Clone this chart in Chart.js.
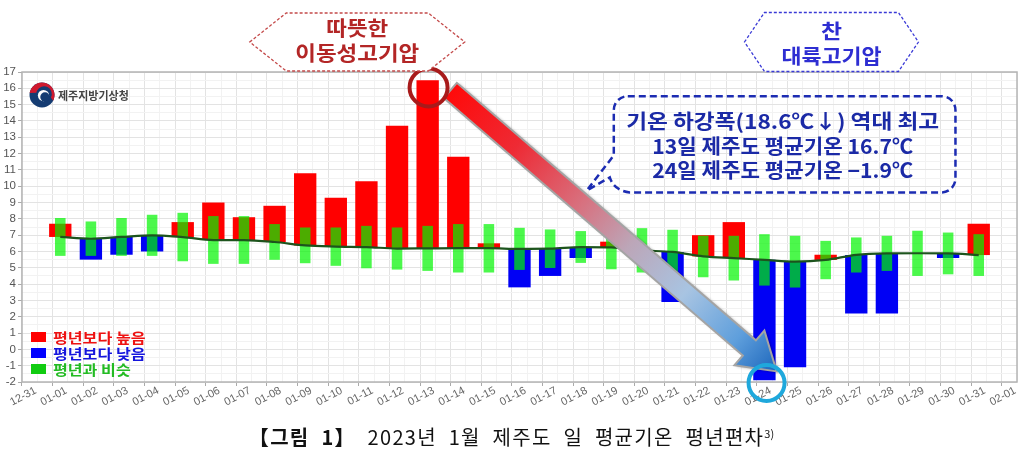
<!DOCTYPE html>
<html><head><meta charset="utf-8">
<script src="https://cdn.jsdelivr.net/npm/chart.js@4.4.0/dist/chart.umd.min.js"></script>
<style>
html,body{margin:0;padding:0;background:#fff;}
#wrap{position:relative;width:1023px;height:456px;overflow:hidden;}
canvas{position:absolute;left:0;top:0;}
#cap{position:absolute;left:0;top:422px;width:1023px;text-align:center;font-family:"Noto Sans CJK KR","Noto Sans",sans-serif;font-size:20px;color:#111;word-spacing:6px;letter-spacing:1.3px;white-space:nowrap;}
#cap sup{font-size:11px;vertical-align:7px;word-spacing:0;letter-spacing:0;}
</style></head><body>
<div id="wrap"><canvas id="c" width="1023" height="456"></canvas>
<div id="cap"><b>【그림 1】</b> 2023년 1월 제주도 일 평균기온 평년편차<sup>3)</sup></div></div>
<script>
// ---- data ----
const tickLabels = ['12-31','01-01','01-02','01-03','01-04','01-05','01-06','01-07','01-08','01-09','01-10','01-11','01-12','01-13','01-14','01-15','01-16','01-17','01-18','01-19','01-20','01-21','01-22','01-23','01-24','01-25','01-26','01-27','01-28','01-29','01-30','01-31','02-01'];
const days = [1,2,3,4,5,6,7,8,9,10,11,12,13,14,15,16,17,18,19,20,21,22,23,24,25,26,27,28,29,30,31];
const actualTemp = [7.7,5.5,5.8,6.0,7.8,9.0,8.1,8.8,10.8,9.3,10.3,13.7,16.5,11.8,6.5,3.8,4.5,5.6,6.6,6.07,2.9,7.0,7.8,-1.9,-1.1,5.8,2.2,2.2,5.89,5.6,7.7];
const normalAvg = [6.89,6.78,6.89,6.99,6.88,6.70,6.70,6.58,6.37,6.30,6.27,6.18,6.19,6.20,6.20,6.16,6.17,6.27,6.25,6.07,5.97,5.70,5.59,5.49,5.38,5.48,5.79,5.88,5.89,5.88,5.78];
const normalLow = [5.73,5.73,5.73,5.73,5.40,5.24,5.24,5.49,5.28,5.12,4.97,4.89,4.81,4.71,4.71,4.87,4.99,5.30,4.91,4.71,4.60,4.42,4.22,3.91,3.79,4.30,4.71,4.81,4.50,4.60,4.50];
const normalHigh = [8.05,7.84,8.05,8.25,8.37,8.17,8.17,7.68,7.47,7.47,7.57,7.47,7.57,7.68,7.68,7.45,7.35,7.25,7.60,7.43,7.33,6.97,6.96,7.06,6.96,6.65,6.86,6.96,7.27,7.16,7.06];
const seriesNames = ['평년보다 높음','평년보다 낮음','평년과 비슷'];
const yMin = -2, yMax = 17;

// ---- build datasets ----
const aboveData = [], belowData = [], rangeData = [], avgLine = [];
days.forEach((d,i)=>{
  if (actualTemp[i] > normalAvg[i]) aboveData.push({x:d, y:[normalAvg[i], actualTemp[i]]});
  else if (actualTemp[i] < normalAvg[i]) belowData.push({x:d, y:[actualTemp[i], normalAvg[i]]});
  rangeData.push({x:d, y:[normalLow[i], normalHigh[i]]});
  avgLine.push({x:d, y:normalAvg[i]});
});

const legendTextColors = ['#ee1111','#1515dd','#22bb22'];
const KFONT = '"Noto Sans CJK KR","Noto Sans",sans-serif';
const isMajor = (c)=> !!(c && c.tick && Number.isInteger(c.tick.value));

function fitText(ctx, text, x, y, target, align){
  const w = ctx.measureText(text).width;
  let sx = target ? target / w : 1;
  ctx.save();
  ctx.translate(x, y);
  ctx.scale(sx, 1);
  ctx.textAlign = align || 'left';
  ctx.fillText(text, 0, 0);
  ctx.restore();
}

const borderPlugin = {
  id:'areaBorder',
  beforeDatasetsDraw(chart){
    const {ctx, chartArea:a} = chart;
    ctx.save();
    ctx.strokeStyle = '#b4b4b4'; ctx.lineWidth = 1.5;
    ctx.strokeRect(a.left, a.top, a.right - a.left, a.bottom - a.top);
    ctx.restore();
  }
};

function hexagon(ctx, cx, top, bottom, halfTop, halfMid, stroke){
  const mid = (top + bottom) / 2;
  ctx.beginPath();
  ctx.moveTo(cx - halfMid, mid);
  ctx.lineTo(cx - halfTop, top);
  ctx.lineTo(cx + halfTop, top);
  ctx.lineTo(cx + halfMid, mid);
  ctx.lineTo(cx + halfTop, bottom);
  ctx.lineTo(cx - halfTop, bottom);
  ctx.closePath();
  ctx.fillStyle = '#ffffff'; ctx.fill();
  ctx.setLineDash([3,2]); ctx.lineWidth = 1.3; ctx.strokeStyle = stroke; ctx.stroke();
  ctx.setLineDash([]);
}

const annoPlugin = {
  id:'anno',
  afterDraw(chart){
    const {ctx, chartArea:a} = chart;
    const xs = chart.scales.x, ys = chart.scales.y;
    ctx.save();
    // legend
    const lx = a.left + 9;
    const rows = [a.bottom - 45, a.bottom - 29, a.bottom - 13];
    [1,2,3].forEach((di,k)=>{
      const ds = chart.data.datasets[di];
      ctx.fillStyle = ds.legendColor;
      ctx.fillRect(lx, rows[k] - 5, 15, 10);
      ctx.font = 'bold 14px ' + KFONT;
      ctx.fillStyle = legendTextColors[k];
      ctx.textBaseline = 'middle';
      const tw = ctx.measureText(ds.label).width;
      fitText(ctx, ds.label, lx + 22, rows[k] + 1, tw * 1.15, 'left');
    });

    // logo
    const lgx = a.left + 20, lgy = a.top + 23, r = 12.5;
    ctx.beginPath(); ctx.arc(lgx, lgy, r, 0, Math.PI*2); ctx.fillStyle = '#153c72'; ctx.fill();
    ctx.beginPath(); ctx.arc(lgx, lgy, r, Math.PI*1.05, Math.PI*0.15); ctx.arc(lgx+2, lgy-1, r*0.62, Math.PI*0.15, Math.PI*1.05, true); ctx.closePath();
    ctx.fillStyle = '#d0192e'; ctx.fill();
    ctx.beginPath(); ctx.arc(lgx+1.5, lgy+0.5, r*0.45, 0, Math.PI*2); ctx.fillStyle = '#ffffff'; ctx.fill();
    ctx.beginPath(); ctx.arc(lgx+3, lgy+2, r*0.38, 0, Math.PI*2); ctx.fillStyle = '#153c72'; ctx.fill();
    ctx.font = 'bold 11px ' + KFONT; ctx.fillStyle = '#444'; ctx.textBaseline = 'middle'; ctx.textAlign = 'left';
    ctx.fillText('제주지방기상청', lgx + 16, lgy + 1);

    // big arrow
    const x0 = xs.getPixelForValue(13.74), y0 = ys.getPixelForValue(15.87);
    const x1 = xs.getPixelForValue(24.4), y1 = ys.getPixelForValue(-1.35);
    const dx = x1-x0, dy = y1-y0, L = Math.hypot(dx,dy), ux = dx/L, uy = dy/L, nx = -uy, ny = ux;
    const hw = 10, hh = 23, hl = 36;
    const bx = x1-ux*hl, by = y1-uy*hl;
    const pts = [[x0+nx*hw,y0+ny*hw],[bx+nx*hw,by+ny*hw],[bx+nx*hh,by+ny*hh],[x1,y1],[bx-nx*hh,by-ny*hh],[bx-nx*hw,by-ny*hw],[x0-nx*hw,y0-ny*hw]];
    ctx.beginPath(); pts.forEach((p,i)=> i ? ctx.lineTo(p[0],p[1]) : ctx.moveTo(p[0],p[1])); ctx.closePath();
    const g = ctx.createLinearGradient(x0,y0,x1,y1);
    g.addColorStop(0,'#ff0a0a'); g.addColorStop(0.2,'#ee2a34'); g.addColorStop(0.4,'#d8707e');
    g.addColorStop(0.55,'#bca6b8'); g.addColorStop(0.72,'#a8c4e2'); g.addColorStop(0.88,'#5f9fdc'); g.addColorStop(1,'#1c66bc');
    ctx.save();
    ctx.shadowColor = 'rgba(0,0,0,0.35)'; ctx.shadowBlur = 3; ctx.shadowOffsetX = 2; ctx.shadowOffsetY = 1;
    ctx.fillStyle = g; ctx.fill();
    ctx.restore();
    ctx.lineWidth = 2; ctx.strokeStyle = '#a4a4a4'; ctx.stroke();

    // red circle at peak
    ctx.beginPath(); ctx.arc(xs.getPixelForValue(13.03), ys.getPixelForValue(16.05), 19, 0, Math.PI*2);
    ctx.lineWidth = 4; ctx.strokeStyle = '#a81b1b'; ctx.stroke();
    // cyan circle at min
    ctx.beginPath(); ctx.arc(xs.getPixelForValue(24.07), ys.getPixelForValue(-2.06), 18, 0, Math.PI*2);
    ctx.lineWidth = 4; ctx.strokeStyle = '#1fa8dc'; ctx.stroke();

    // hexagon labels
    const h1 = xs.getPixelForValue(10.7), h2 = xs.getPixelForValue(26.19);
    hexagon(ctx, h1, 13, 71, 71, 107.5, '#c44a4a');
    hexagon(ctx, h2, 12.5, 71.5, 67, 87, '#3a3ad6');
    ctx.textAlign = 'center'; ctx.textBaseline = 'middle';
    ctx.font = 'bold 20px ' + KFONT;
    ctx.fillStyle = '#b32626';
    fitText(ctx, '따뜻한', h1, 28, 62, 'center'); fitText(ctx, '이동성고기압', h1, 53, 124, 'center');
    ctx.fillStyle = '#2e2ed2';
    fitText(ctx, '찬', h2, 31, 21, 'center'); fitText(ctx, '대륙고기압', h2, 56, 100, 'center');

    // callout
    const L0 = xs.getPixelForValue(19.08), R0 = xs.getPixelForValue(30.24), T0 = ys.getPixelForValue(15.52), B0 = ys.getPixelForValue(9.62), rr = 14;
    ctx.beginPath();
    ctx.moveTo(L0+rr, T0); ctx.lineTo(R0-rr, T0); ctx.arcTo(R0, T0, R0, T0+rr, rr);
    ctx.lineTo(R0, B0-rr); ctx.arcTo(R0, B0, R0-rr, B0, rr);
    ctx.lineTo(L0+16, B0); ctx.quadraticCurveTo(L0, B0-2, L0-4, B0-15);
    ctx.lineTo(L0-27, B0-2); ctx.lineTo(L0, B0-37);
    ctx.lineTo(L0, T0+rr); ctx.arcTo(L0, T0, L0+rr, T0, rr);
    ctx.setLineDash([7,4]); ctx.lineWidth = 2.5; ctx.strokeStyle = '#1c2cb2'; ctx.stroke(); ctx.setLineDash([]);
    const cx = (L0 + R0) / 2 - 2;
    ctx.font = 'bold 20px ' + KFONT; ctx.fillStyle = '#1b2aa6'; ctx.textBaseline = 'middle';
    fitText(ctx, '기온 하강폭(18.6℃↓) 역대 최고', cx, T0 + 25, 313, 'center');
    fitText(ctx, '13일 제주도 평균기온 16.7℃', cx, T0 + 50, 261, 'center');
    fitText(ctx, '24일 제주도 평균기온 −1.9℃', cx, T0 + 74, 261, 'center');
    ctx.restore();
  }
};

new Chart(document.getElementById('c'), {
  data: {
    datasets: [
      {type:'line', label:'평년', data: avgLine, borderColor:'#1d541d', borderWidth:2.2, pointRadius:0, tension:0.4, cubicInterpolationMode:'monotone', order:0},
      {type:'bar', label: seriesNames[0], data: aboveData, backgroundColor:'#ff0000', legendColor:'#ff0000', barPercentage:0.73, categoryPercentage:2, grouped:false, order:3},
      {type:'bar', label: seriesNames[1], data: belowData, backgroundColor:'#0000f5', legendColor:'#0000ff', barPercentage:0.73, categoryPercentage:2, grouped:false, order:3},
      {type:'bar', label: seriesNames[2], data: rangeData, backgroundColor:'rgba(0,245,0,0.7)', legendColor:'#11cc11', barPercentage:0.345, categoryPercentage:2, grouped:false, order:1}
    ]
  },
  options: {
    responsive:false, animation:false,
    layout:{padding:{top:72, right:0, left:0, bottom:0}},
    plugins:{legend:{display:false}, tooltip:{enabled:false}},
    scales:{
      x:{type:'linear', min:0, max:tickLabels.length-1,
        afterFit(s){ s.height = 74; s.paddingLeft = 0; s.paddingRight = 6; },
        ticks:{stepSize:0.5, autoSkip:false, maxRotation:28, minRotation:28, labelOffset:6, padding:-2,
          color:'#666', font:{family:'"Liberation Sans",Arial,sans-serif', size:11},
          callback:(v)=> Number.isInteger(v) ? tickLabels[v] : ''},
        grid:{color:(c)=> isMajor(c) ? '#e3e3e3' : '#f2f2f2', tickLength:4,
          tickColor:(c)=> isMajor(c) ? '#aaa' : 'rgba(0,0,0,0)'},
        border:{display:false}
      },
      y:{type:'linear', min:yMin, max:yMax,
        afterFit(s){ s.width = 22; },
        ticks:{stepSize:0.5, maxTicksLimit:1000, autoSkip:false, padding:2, color:'#555', font:{family:'"Liberation Sans",Arial,sans-serif', size:11.5},
          callback:(v)=> Number.isInteger(v) ? String(v) : ''},
        grid:{color:(c)=> isMajor(c) ? '#e3e3e3' : '#f2f2f2', tickLength:4,
          tickColor:(c)=> isMajor(c) ? '#aaa' : 'rgba(0,0,0,0)'},
        border:{display:false}
      }
    }
  },
  plugins:[borderPlugin, annoPlugin]
});
</script>
</body></html>
